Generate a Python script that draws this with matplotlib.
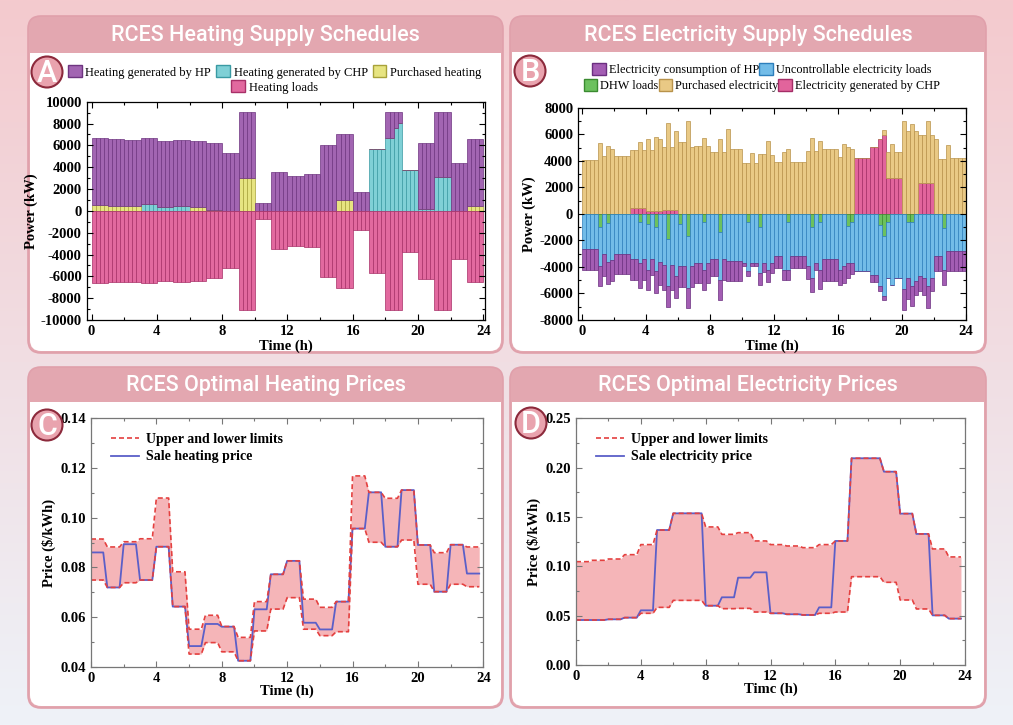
import numpy as np
import matplotlib
matplotlib.use('Agg')
import matplotlib.pyplot as plt
from matplotlib.patches import FancyBboxPatch, Rectangle, Circle, Patch
from matplotlib.lines import Line2D
from matplotlib.ticker import MultipleLocator, FormatStrFormatter

# ---------------- data (15-min resolution, 96 steps; hourly for prices) ----------------
# Panel A: heating supply (kW)
heat_hp = [6100, 6100, 6100, 6100,  6100, 6100, 6100, 6100,  6100, 6100, 6100, 6100,
           6040, 6040, 6040, 6040,  6060, 6060, 6060, 6060,  6040, 6040, 6040, 6040,
           6030, 6030, 6030, 6030,  6100, 6100, 6100, 6100,  5280, 5280, 5280, 5280,
           6040, 6040, 6040, 6040,  760, 760, 760, 760,      3540, 3540, 3540, 3540,
           3230, 3230, 3230, 3230,  3350, 3350, 3350, 3350,  6040, 6040, 6040, 6040,
           6100, 6100, 6100, 6100,  1710, 1710, 1710, 1710,  0, 0, 0, 0,
           2390, 2390, 1530, 1070,  0, 0, 0, 0,              6070, 6070, 6070, 6070,
           6010, 6010, 6010, 6010,  4390, 4390, 4390, 4390,  6100, 6100, 6100, 6100]
heat_chp = [0, 0, 0, 0,          0, 0, 0, 0,          0, 0, 0, 0,
            610, 610, 610, 610,  340, 340, 340, 340,  460, 460, 460, 460,
            0, 0, 0, 0,          0, 0, 0, 0,          0, 0, 0, 0,
            0, 0, 0, 0,          0, 0, 0, 0,          0, 0, 0, 0,
            0, 0, 0, 0,          0, 0, 0, 0,          0, 0, 0, 0,
            0, 0, 0, 0,          0, 0, 0, 0,          5670, 5670, 5670, 5670,
            6700, 6700, 7560, 8020,  3750, 3750, 3750, 3750,  150, 150, 150, 150,
            3080, 3080, 3080, 3080,  0, 0, 0, 0,          0, 0, 0, 0]
heat_buy = [550, 550, 550, 550,  460, 460, 460, 460,  400, 400, 400, 400,
            0, 0, 0, 0,          0, 0, 0, 0,          0, 0, 0, 0,
            370, 370, 370, 370,  90, 90, 90, 90,      0, 0, 0, 0,
            3050, 3050, 3050, 3050,  0, 0, 0, 0,      0, 0, 0, 0,
            0, 0, 0, 0,          0, 0, 0, 0,          0, 0, 0, 0,
            950, 950, 950, 950,  0, 0, 0, 0,          0, 0, 0, 0,
            0, 0, 0, 0,          0, 0, 0, 0,          0, 0, 0, 0,
            0, 0, 0, 0,          0, 0, 0, 0,          460, 460, 460, 460]
heat_load = [6650, 6650, 6650, 6650,  6560, 6560, 6560, 6560,  6500, 6500, 6500, 6500,
             6650, 6650, 6650, 6650,  6400, 6400, 6400, 6400,  6500, 6500, 6500, 6500,
             6400, 6400, 6400, 6400,  6190, 6190, 6190, 6190,  5280, 5280, 5280, 5280,
             9090, 9090, 9090, 9090,  760, 760, 760, 760,      3540, 3540, 3540, 3540,
             3230, 3230, 3230, 3230,  3350, 3350, 3350, 3350,  6040, 6040, 6040, 6040,
             7050, 7050, 7050, 7050,  1710, 1710, 1710, 1710,  5670, 5670, 5670, 5670,
             9090, 9090, 9090, 9090,  3750, 3750, 3750, 3750,  6220, 6220, 6220, 6220,
             9090, 9090, 9090, 9090,  4390, 4390, 4390, 4390,  6560, 6560, 6560, 6560]

# Panel B: electricity supply (kW)
elec_buy = [4080, 4080, 4080, 4080,  5340, 4330, 5110, 4910,  4350, 4350, 4350, 4350,
            4360, 4360, 4970, 4360,  5440, 4580, 5600, 5450,  4730, 6560, 4730, 5920,
            5410, 5410, 6980, 5030,  5100, 5100, 5720, 5100,  4630, 4650, 5670, 4650,
            6380, 4900, 4900, 4900,  3800, 3800, 4600, 3800,  4500, 4500, 5460, 4450,
            3900, 3900, 4650, 4860,  3900, 3900, 3900, 3900,  4700, 5720, 4700, 5490,
            4900, 4900, 4900, 4900,  4250, 5260, 5030, 4860,  0, 0, 0, 0,
            0, 0, 0, 380,            1950, 2540, 1950, 1950,  7030, 6220, 6800, 6220,
            3620, 3620, 4680, 3620,  5620, 4150, 4150, 5160,  4200, 4200, 4200, 4200]
elec_chp = [0, 0, 0, 0,          0, 0, 0, 0,          0, 0, 0, 0,
            420, 420, 420, 420,  200, 200, 200, 200,  300, 300, 300, 300,
            0, 0, 0, 0,          0, 0, 0, 0,          0, 0, 0, 0,
            0, 0, 0, 0,          0, 0, 0, 0,          0, 0, 0, 0,
            0, 0, 0, 0,          0, 0, 0, 0,          0, 0, 0, 0,
            0, 0, 0, 0,          0, 0, 0, 0,          4200, 4200, 4200, 4200,
            5030, 5030, 5670, 5970,  2700, 2700, 2700, 2700,  0, 0, 0, 0,
            2300, 2300, 2300, 2300,  0, 0, 0, 0,          0, 0, 0, 0]
elec_dhw = [0, 0, 0, 0,          1000, 0, 700, 0,     0, 0, 0, 0,
            0, 0, 650, 0,        780, 0, 1000, 0,     0, 1900, 0, 0,
            780, 0, 1650, 0,     0, 0, 650, 0,        0, 0, 1400, 0,
            0, 0, 0, 0,          0, 650, 0, 0,        1000, 0, 0, 0,
            0, 0, 0, 600,        0, 0, 0, 0,          0, 1000, 0, 650,
            0, 0, 0, 0,          0, 0, 900, 650,      0, 0, 0, 0,
            0, 0, 850, 1650,     650, 0, 0, 0,        0, 650, 650, 0,
            0, 0, 0, 0,          0, 0, 1040, 0,       0, 0, 0, 0]
elec_unc = [2680, 2680, 2680, 2680,  2950, 2990, 2900, 3500,  3000, 3000, 3000, 3000,
            3440, 3440, 3050, 3440,  3420, 3440, 3300, 3620,  3820, 3560, 3820, 4700,
            3170, 3950, 3940, 3950,  3690, 3690, 3550, 3690,  3440, 3440, 3560, 3440,
            3570, 3570, 3570, 3570,  3690, 3680, 3690, 3690,  3450, 3690, 4200, 3690,
            3190, 3190, 4200, 3600,  3190, 3190, 3190, 3190,  3950, 3830, 3700, 3550,
            3440, 3440, 3440, 3440,  4200, 3950, 2790, 3050,  4330, 4330, 4330, 4330,
            4580, 4580, 4610, 4570,  4180, 5390, 4830, 4830,  5670, 4180, 4810, 5080,
            4700, 4830, 5460, 4830,  3190, 3190, 3160, 2810,  2810, 2810, 2810, 2810]
elec_hp = [1520, 1520, 1520, 1520,  1510, 1710, 1660, 1590,  1530, 1530, 1530, 1530,
           1520, 1520, 1890, 1520,  1570, 1140, 1670, 1720,  1900, 1570, 1900, 1650,
           1570, 1570, 1540, 1570,  1520, 1520, 1520, 1520,  1260, 1260, 1520, 1520,
           1520, 1520, 1520, 1520,  260, 370, 260, 260,      890, 710, 900, 760,
           880, 880, 760, 760,      880, 880, 880, 880,      960, 1090, 500, 1470,
           1590, 1590, 1590, 1590,  1160, 1260, 1140, 800,   0, 0, 0, 0,
           580, 580, 330, 310,      0, 0, 0, 0,              1570, 1600, 1520, 1000,
           1140, 1250, 1650, 1010,  1140, 1140, 1140, 1520,  1520, 1520, 1520, 1520]

# Panel C: heating prices ($/kWh), hourly
heat_up = [0.0914, 0.0882, 0.0903, 0.0915, 0.1079, 0.0782, 0.0551, 0.0607,
           0.0562, 0.0518, 0.0662, 0.0772, 0.0826, 0.0672, 0.0639, 0.0662,
           0.1168, 0.1102, 0.1078, 0.1111, 0.0890, 0.0859, 0.0891, 0.0882]
heat_low = [0.0749, 0.0719, 0.0738, 0.0749, 0.0883, 0.0642, 0.0451, 0.0497,
            0.0460, 0.0424, 0.0544, 0.0632, 0.0678, 0.0551, 0.0525, 0.0541,
            0.0956, 0.0901, 0.0883, 0.0910, 0.0732, 0.0702, 0.0732, 0.0722]
heat_price = [0.0860, 0.0719, 0.0893, 0.0749, 0.0883, 0.0642, 0.0483, 0.0572,
              0.0561, 0.0424, 0.0631, 0.0772, 0.0826, 0.0577, 0.0550, 0.0662,
              0.0956, 0.1102, 0.0883, 0.1111, 0.0890, 0.0702, 0.0891, 0.0775]

# Panel D: electricity prices ($/kWh), hourly
elec_up = [0.1047, 0.1061, 0.1074, 0.1118, 0.1220, 0.1368, 0.1537, 0.1537,
           0.1399, 0.1324, 0.1341, 0.1257, 0.1220, 0.1206, 0.1189, 0.1220,
           0.1257, 0.2095, 0.2095, 0.1959, 0.1534, 0.1328, 0.1176, 0.1095]
elec_low = [0.0456, 0.0456, 0.0463, 0.0480, 0.0524, 0.0584, 0.0655, 0.0655,
            0.0601, 0.0571, 0.0574, 0.0537, 0.0524, 0.0514, 0.0507, 0.0524,
            0.0537, 0.0895, 0.0895, 0.0838, 0.0659, 0.0568, 0.0503, 0.0470]
elec_price = [0.0456, 0.0456, 0.0463, 0.0480, 0.0554, 0.1368, 0.1537, 0.1537,
              0.0601, 0.0686, 0.0885, 0.0939, 0.0524, 0.0514, 0.0507, 0.0584,
              0.1257, 0.2095, 0.2095, 0.1959, 0.1534, 0.1328, 0.0503, 0.0470]

# ---------------- style ----------------
plt.rcParams['axes.unicode_minus'] = False
SERIF = ['Liberation Serif', 'DejaVu Serif']
TITLE_FONT = ['Roboto', 'DejaVu Sans']
HEAD = '#e3a7b0'
BORDER = '#e0a0ab'

W, H = 1013, 725
fig = plt.figure(figsize=(W / 100, H / 100), dpi=100)

# background in pixel coordinates
bg = fig.add_axes([0, 0, 1, 1], zorder=0)
bg.set_xlim(0, W)
bg.set_ylim(H, 0)
bg.axis('off')
top_c = np.array([244, 202, 206]) / 255
bot_c = np.array([238, 242, 248]) / 255
frac = np.linspace(0, 1, 256)[:, None]
grad = (top_c[None, :] * (1 - frac) + bot_c[None, :] * frac)[:, None, :]
bg.imshow(grad, extent=[0, W, H, 0], aspect='auto', zorder=0)


def draw_card(x0, y0, x1, y1, head_h, title):
    w, h = x1 - x0, y1 - y0
    bg.add_patch(FancyBboxPatch((x0, y0), w, h, boxstyle='round,pad=0,rounding_size=13',
                                fc=HEAD, ec=BORDER, lw=1.2, zorder=1))
    bg.add_patch(FancyBboxPatch((x0 + 2, y0 + head_h), w - 4, h - head_h - 2,
                                boxstyle='round,pad=0,rounding_size=11',
                                fc='white', ec='none', zorder=2))
    bg.add_patch(Rectangle((x0 + 2, y0 + head_h), w - 4, 15, fc='white', ec='none', zorder=2))
    bg.text((x0 + x1) / 2, y0 + head_h / 2 + 1, title, color='white', fontsize=15.5,
            family=TITLE_FONT, fontweight='medium', ha='center', va='center', zorder=3)


draw_card(28, 16, 503, 353, 37, 'RCES Heating Supply Schedules')
draw_card(510, 16, 986, 353, 36, 'RCES Electricity Supply Schedules')
draw_card(28, 367, 503, 708, 35, 'RCES Optimal Heating Prices')
draw_card(510, 367, 986, 708, 35, 'RCES Optimal Electricity Prices')


def px_axes(left, top, right, bottom):
    return fig.add_axes([left / W, 1 - bottom / H, (right - left) / W, (bottom - top) / H],
                        zorder=2, facecolor='none')


def style_axes(ax, spine_col='black'):
    ax.tick_params(which='both', direction='in', top=True, right=True, colors=spine_col,
                   labelcolor='black', width=0.8)
    ax.tick_params(which='major', length=4)
    ax.tick_params(which='minor', length=2)
    for s in ax.spines.values():
        s.set_color(spine_col)
        s.set_linewidth(0.9)
    for lab in ax.get_xticklabels() + ax.get_yticklabels():
        lab.set_fontproperties(matplotlib.font_manager.FontProperties(
            family=SERIF, weight='bold', size=10.5))
    ax.xaxis.set_major_locator(MultipleLocator(4))
    ax.xaxis.set_minor_locator(MultipleLocator(2))


t = np.arange(96) * 0.25
bw = 0.25

# ---------------- Panel A ----------------
axA = px_axes(86.7, 101.7, 485, 320)
c_hp, e_hp = '#a265b2', '#6e3580'
c_chp, e_chp = '#7fd0d6', '#3a9aa3'
c_buy, e_buy = '#e7e481', '#a8a23a'
c_load, e_load = '#e2699f', '#a83068'
hp_a = np.array(heat_hp)
chp_a = np.array(heat_chp)
buy_a = np.array(heat_buy)
axA.bar(t, chp_a, bw, align='edge', color=c_chp, edgecolor=e_chp, lw=0.5)
axA.bar(t, buy_a, bw, bottom=chp_a, align='edge', color=c_buy, edgecolor=e_buy, lw=0.5)
axA.bar(t, hp_a, bw, bottom=chp_a + buy_a, align='edge', color=c_hp, edgecolor=e_hp, lw=0.5)
axA.bar(t, -np.array(heat_load), bw, align='edge', color=c_load, edgecolor=e_load, lw=0.5)
axA.set_xlim(-0.3, 24.1)
axA.set_ylim(-10000, 10000)
axA.set_xticks(range(0, 25, 4))
axA.yaxis.set_major_locator(MultipleLocator(2000))
axA.yaxis.set_minor_locator(MultipleLocator(1000))
style_axes(axA)
axA.set_xlabel('Time (h)', family=SERIF, fontweight='bold', fontsize=10.5, labelpad=1)
axA.set_ylabel('Power (kW)', family=SERIF, fontweight='bold', fontsize=10.5, labelpad=2)
hA = [Patch(fc=c_hp, ec=e_hp), Patch(fc=c_chp, ec=e_chp), Patch(fc=c_buy, ec=e_buy),
      Patch(fc=c_load, ec=e_load)]
lA = ['Heating generated by HP', 'Heating generated by CHP', 'Purchased heating', 'Heating loads']
leg_kw = dict(loc='center', frameon=False, handlelength=1.1, handleheight=1.1,
              handletextpad=0.3, columnspacing=0.4, borderpad=0, borderaxespad=0)
legA1 = axA.legend(hA[:3], lA[:3], ncol=3, bbox_to_anchor=(0.472, 1.136),
                   prop=dict(family=SERIF, size=9), **leg_kw)
axA.add_artist(legA1)
axA.legend(hA[3:], lA[3:], ncol=1, bbox_to_anchor=(0.472, 1.067),
           prop=dict(family=SERIF, size=9), **leg_kw)

# ---------------- Panel B ----------------
axB = px_axes(578, 107.7, 966, 320)
cb_hp, eb_hp = '#a35db3', '#6b2f80'
cb_unc, eb_unc = '#72bce8', '#2d7fbc'
cb_dhw, eb_dhw = '#6cc15e', '#3a8a30'
cb_buy, eb_buy = '#e9c985', '#b8924a'
cb_chp, eb_chp = '#e2649c', '#a42d66'
chp_b = np.array(elec_chp)
dhw_b = np.array(elec_dhw)
unc_b = np.array(elec_unc)
axB.bar(t, chp_b, bw, align='edge', color=cb_chp, edgecolor=eb_chp, lw=0.5)
axB.bar(t, elec_buy, bw, bottom=chp_b, align='edge', color=cb_buy, edgecolor=eb_buy, lw=0.5)
axB.bar(t, -dhw_b, bw, align='edge', color=cb_dhw, edgecolor=eb_dhw, lw=0.5)
axB.bar(t, -unc_b, bw, bottom=-dhw_b, align='edge', color=cb_unc, edgecolor=eb_unc, lw=0.5)
axB.bar(t, -np.array(elec_hp), bw, bottom=-dhw_b - unc_b, align='edge', color=cb_hp,
        edgecolor=eb_hp, lw=0.5)
axB.set_xlim(-0.23, 24.0)
axB.set_ylim(-8000, 8000)
axB.set_xticks(range(0, 25, 4))
axB.yaxis.set_major_locator(MultipleLocator(2000))
axB.yaxis.set_minor_locator(MultipleLocator(1000))
style_axes(axB)
axB.set_xlabel('Time (h)', family=SERIF, fontweight='bold', fontsize=10.5, labelpad=1)
axB.set_ylabel('Power (kW)', family=SERIF, fontweight='bold', fontsize=10.5, labelpad=2)
hB = [Patch(fc=cb_hp, ec=eb_hp), Patch(fc=cb_unc, ec=eb_unc), Patch(fc=cb_dhw, ec=eb_dhw),
      Patch(fc=cb_buy, ec=eb_buy), Patch(fc=cb_chp, ec=eb_chp)]
lB = ['Electricity consumption of HP', 'Uncontrollable electricity loads', 'DHW loads',
      'Purchased electricity', 'Electricity generated by CHP']
leg_kw_b = dict(leg_kw, columnspacing=0.0, handletextpad=0.25)
legB1 = axB.legend(hB[:2], lB[:2], ncol=2, bbox_to_anchor=(0.474, 1.178),
                   prop=dict(family=SERIF, size=8.8), **leg_kw_b)
axB.add_artist(legB1)
axB.legend(hB[2:], lB[2:], ncol=3, bbox_to_anchor=(0.474, 1.104),
           prop=dict(family=SERIF, size=8.8), **leg_kw_b)


# ---------------- Panels C & D ----------------
def price_panel(ax, up, low, price, ylim, ystep, price_label, xlabel):
    up_q = np.repeat(up, 4)
    low_q = np.repeat(low, 4)
    pr_q = np.repeat(price, 4)
    ax.fill_between(t, low_q, up_q, color='#f5b5b8', lw=0)
    ax.plot(t, pr_q, color='#5b5fc8', lw=1.3)
    ax.plot(t, up_q, color='#e4403f', lw=1.2, ls=(0, (3, 1.8)))
    ax.plot(t, low_q, color='#e4403f', lw=1.2, ls=(0, (3, 1.8)))
    ax.set_xlim(0, 24)
    ax.set_ylim(*ylim)
    ax.set_xticks(range(0, 25, 4))
    ax.yaxis.set_major_locator(MultipleLocator(ystep))
    ax.yaxis.set_minor_locator(MultipleLocator(ystep / 2))
    ax.yaxis.set_major_formatter(FormatStrFormatter('%.2f'))
    style_axes(ax, spine_col='#777777')
    ax.set_xlabel(xlabel, family=SERIF, fontweight='bold', fontsize=10.5, labelpad=0)
    ax.set_ylabel(r'Price (\$/kWh)', family=SERIF, fontweight='bold', fontsize=10.5, labelpad=3)
    handles = [Line2D([], [], color='#e4403f', lw=1.2, ls=(0, (3, 1.8))),
               Line2D([], [], color='#5b5fc8', lw=1.3)]
    ax.legend(handles, ['Upper and lower limits', price_label], loc='upper left',
              bbox_to_anchor=(0.02, 0.99), frameon=False, handlelength=2.0,
              handletextpad=0.5, labelspacing=0.3,
              prop=dict(family=SERIF, weight='bold', size=10))


axC = px_axes(91, 418.3, 483.3, 666.7)
price_panel(axC, heat_up, heat_low, heat_price, (0.04, 0.14), 0.02,
            'Sale heating price', 'Time (h)')
axD = px_axes(576, 418.3, 965, 665)
price_panel(axD, elec_up, elec_low, elec_price, (0.0, 0.25), 0.05,
            'Sale electricity price', 'Timc (h)')

# overlay for the letter badges so they sit above the plot axes
ov = fig.add_axes([0, 0, 1, 1], zorder=5, facecolor='none')
ov.set_xlim(0, W)
ov.set_ylim(H, 0)
ov.axis('off')
for letter, cx, cy in [('A', 47, 72), ('B', 530, 71), ('C', 47, 425), ('D', 531, 423)]:
    ov.add_patch(Circle((cx, cy), 15.5, fc='#e9a3ae', ec='#8c2a3c', lw=1.5))
    ov.text(cx, cy + 1, letter, color='white', fontsize=22, family=TITLE_FONT,
            fontweight='medium', ha='center', va='center')

fig.savefig('out.png', dpi=100)
